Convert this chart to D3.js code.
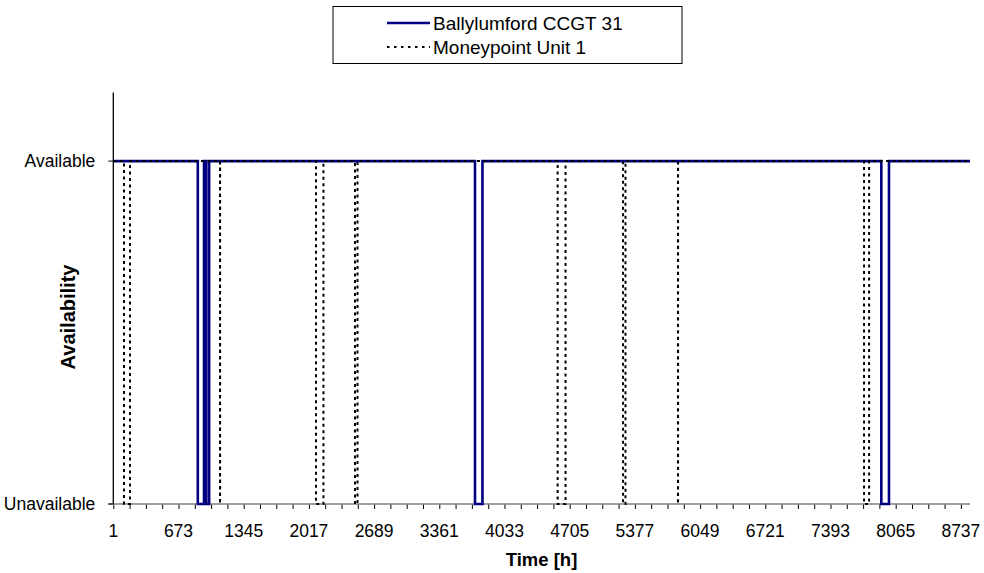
<!DOCTYPE html>
<html>
<head>
<meta charset="utf-8">
<script src="https://cdn.jsdelivr.net/npm/d3@7"></script>
<style>
  html, body { margin: 0; padding: 0; background: #fff; }
  svg { display: block; font-family: Arial, "Liberation Sans", sans-serif; }
</style>
</head>
<body>
<svg id="chart" width="984" height="573"></svg>
<script>
// Hourly availability of two generating units over one year.
const seriesNames = ["Ballylumford CCGT 31", "Moneypoint Unit 1"];
const lastHour = 8830;
// Outage periods as [start hour, end hour]
const ballylumfordOutages = [[871, 935], [958, 988], [3728, 3805], [7916, 7995]];
const moneypointOutages = [[110, 172], [1100, 1101], [2089, 2166], [2491, 2517], [4580, 4661], [5254, 5279], [5820, 5821], [7738, 7790]];
const xTickLabels = [1, 673, 1345, 2017, 2689, 3361, 4033, 4705, 5377, 6049, 6721, 7393, 8065, 8737];
const minorTickStep = 168;
const yStates = [0, 1];
const yStateLabels = ["Unavailable", "Available"];

const svg = d3.select("#chart");
const margin = { left: 113.3, right: 970, top: 92.5, bottom: 504 };

const x = d3.scaleLinear().domain([0, lastHour]).range([margin.left, margin.right]);
const y = d3.scaleLinear().domain([0, 1.2]).range([margin.bottom, margin.top]);

// Build a step trace (1 = available, 0 = unavailable) from outage intervals
function stepTrace(outages) {
  const pts = [[0, 1]];
  outages.forEach(([s, e]) => {
    pts.push([s, 1], [s, 0], [e, 0], [e, 1]);
  });
  pts.push([lastHour, 1]);
  return pts;
}

const line = d3.line().x(d => x(d[0])).y(d => y(d[1]));

// X axis: gray baseline, weekly minor ticks, labels every fourth week
const xAxisG = svg.append("g").attr("transform", `translate(0,${margin.bottom})`);
const xAxis = d3.axisBottom(x)
  .tickValues(d3.range(0, xTickLabels[xTickLabels.length - 1], minorTickStep))
  .tickSize(5)
  .tickFormat(() => "");
xAxisG.call(xAxis);
xAxisG.select(".domain").remove();
xAxisG.selectAll(".tick line").attr("stroke", "#000").attr("stroke-width", 1);
xAxisG.append("line")
  .attr("x1", margin.left - 5).attr("x2", margin.right)
  .attr("stroke", "#808080").attr("stroke-width", 1.3);
xAxisG.selectAll(".xlabel").data(xTickLabels).join("text")
  .attr("class", "xlabel")
  .attr("x", d => x(d - 1))
  .attr("y", 33)
  .attr("text-anchor", "middle")
  .attr("font-size", 17.5)
  .attr("fill", "#000")
  .text(d => d);

// Y axis
const yAxisG = svg.append("g").attr("transform", `translate(${margin.left},0)`);
yAxisG.append("line")
  .attr("y1", margin.top).attr("y2", margin.bottom)
  .attr("stroke", "#000").attr("stroke-width", 1.3);
yAxisG.selectAll(".ytick").data(yStates).join("line")
  .attr("class", "ytick")
  .attr("x1", -5).attr("x2", 0)
  .attr("y1", d => y(d)).attr("y2", d => y(d))
  .attr("stroke", "#000");
yAxisG.selectAll(".ylabel").data(yStates).join("text")
  .attr("class", "ylabel")
  .attr("x", -18)
  .attr("y", d => y(d))
  .attr("dy", "0.35em")
  .attr("text-anchor", "end")
  .attr("font-size", 17.5)
  .text((d, i) => yStateLabels[i]);

// Series lines
svg.append("path")
  .datum(stepTrace(ballylumfordOutages))
  .attr("d", line)
  .attr("fill", "none")
  .attr("stroke", "#000080")
  .attr("stroke-width", 2.6);

svg.append("path")
  .datum(stepTrace(moneypointOutages))
  .attr("d", line)
  .attr("fill", "none")
  .attr("stroke", "#000")
  .attr("stroke-width", 2)
  .attr("stroke-dasharray", "3,3.5");

// Axis titles
svg.append("text")
  .attr("x", 541.5).attr("y", 566)
  .attr("text-anchor", "middle")
  .attr("font-size", 18.5)
  .attr("font-weight", "bold")
  .text("Time [h]");

svg.append("text")
  .attr("transform", "translate(75,317) rotate(-90)")
  .attr("text-anchor", "middle")
  .attr("font-size", 20)
  .attr("font-weight", "bold")
  .text("Availability");

// Legend
const legend = svg.append("g");
legend.append("rect")
  .attr("x", 333).attr("y", 6.5).attr("width", 349).attr("height", 57)
  .attr("fill", "#fff").attr("stroke", "#000").attr("stroke-width", 1);
const legendRows = [
  { name: seriesNames[0], color: "#000080", width: 2.6, dash: null, y: 23 },
  { name: seriesNames[1], color: "#000", width: 2, dash: "2.5,4.5", y: 47 }
];
legendRows.forEach(r => {
  legend.append("line")
    .attr("x1", 387).attr("x2", 430)
    .attr("y1", r.y).attr("y2", r.y)
    .attr("stroke", r.color).attr("stroke-width", r.width)
    .attr("stroke-dasharray", r.dash);
  legend.append("text")
    .attr("x", 433).attr("y", r.y)
    .attr("dy", "0.35em")
    .attr("font-size", 19)
    .text(r.name);
});
</script>
</body>
</html>
